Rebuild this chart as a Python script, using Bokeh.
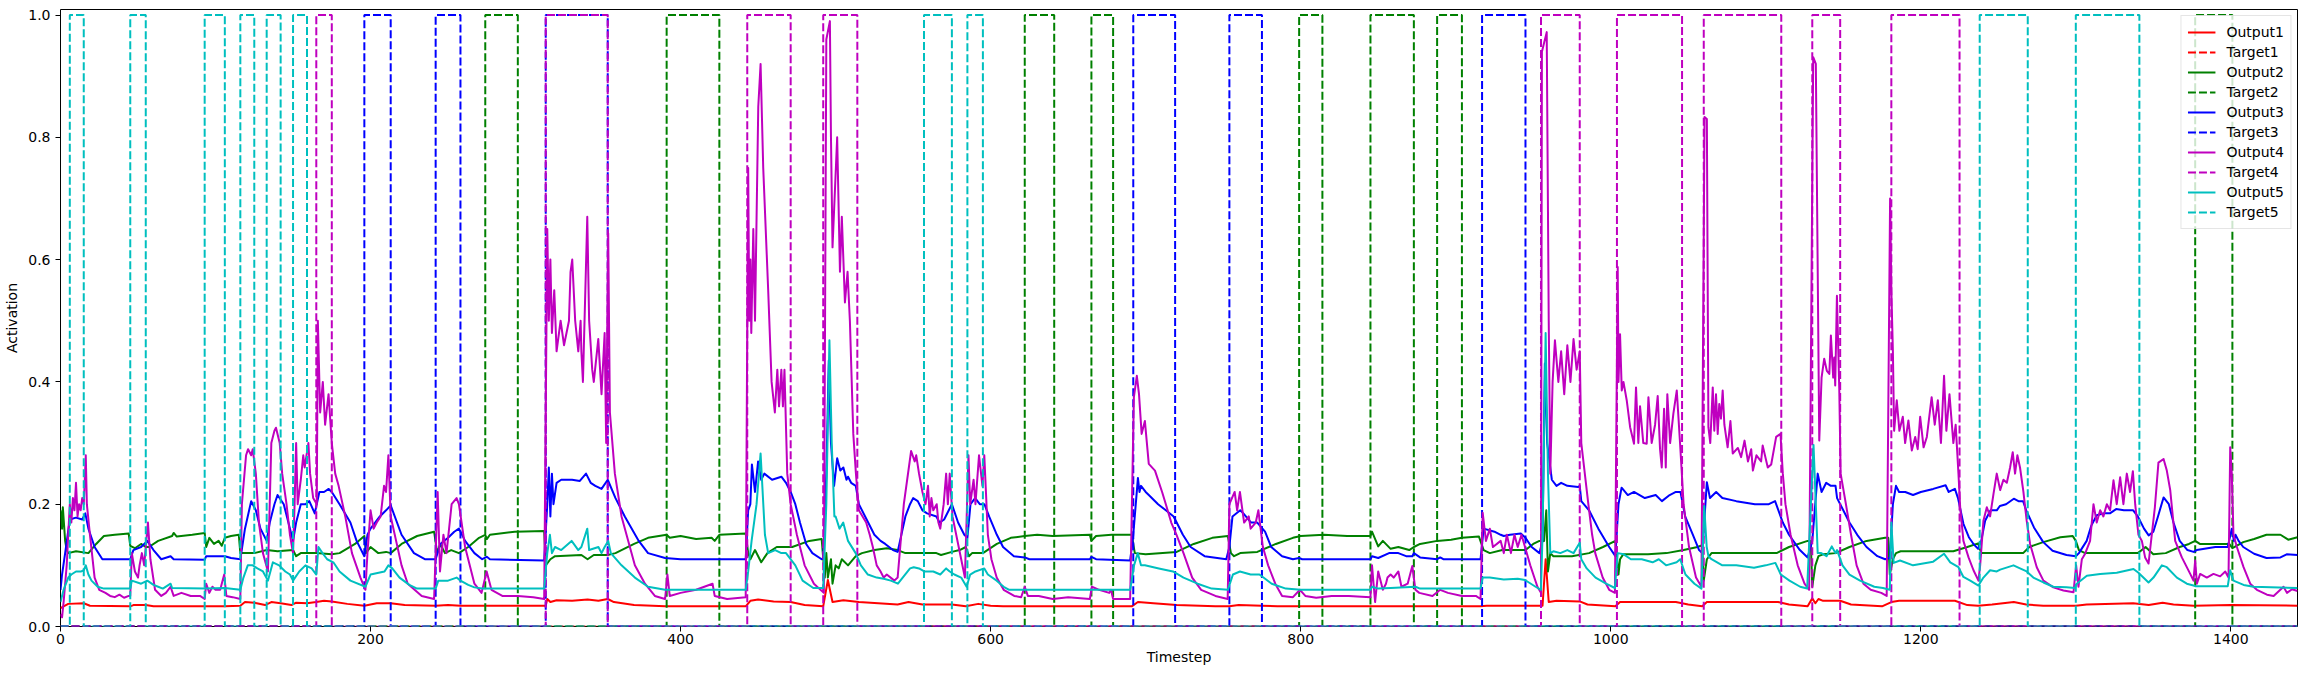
from bokeh.plotting import figure
from bokeh.models import Range1d, FixedTicker, PrintfTickFormatter
from bokeh.embed import file_html
from bokeh.resources import INLINE

N_STEPS = 1443

# (timestep, activation) points
o1_pts = [(0, 0.03), (2, 0.033), (5, 0.037), (15, 0.038), (19, 0.034), (45, 0.033), (47, 0.035), (55, 0.035),
          (60, 0.033), (93, 0.033), (106, 0.033), (116, 0.034), (119, 0.04), (125, 0.039), (132, 0.035),
          (136, 0.04), (142, 0.038), (149, 0.035), (152, 0.039), (159, 0.038), (165, 0.04), (170, 0.042),
          (175, 0.041), (185, 0.037), (196, 0.034), (204, 0.038), (213, 0.038), (222, 0.035), (242, 0.034),
          (250, 0.035), (258, 0.034), (313, 0.034), (314, 0.045), (316, 0.04), (320, 0.043), (330, 0.042),
          (340, 0.044), (347, 0.042), (353, 0.045), (357, 0.04), (370, 0.035), (390, 0.033), (442, 0.033),
          (445, 0.042), (450, 0.044), (460, 0.041), (471, 0.04), (480, 0.035), (492, 0.033), (495, 0.076),
          (498, 0.04), (505, 0.043), (515, 0.04), (540, 0.036), (547, 0.04), (556, 0.036), (575, 0.036),
          (584, 0.033), (592, 0.037), (600, 0.034), (608, 0.033), (691, 0.033), (695, 0.04), (705, 0.038),
          (720, 0.035), (745, 0.033), (754, 0.033), (760, 0.035), (775, 0.034), (785, 0.033), (916, 0.033),
          (920, 0.034), (945, 0.034), (956, 0.034), (958, 0.11), (960, 0.04), (965, 0.042), (980, 0.041),
          (985, 0.036), (1003, 0.033), (1006, 0.04), (1042, 0.04), (1050, 0.036), (1059, 0.033), (1062, 0.04),
          (1108, 0.04), (1115, 0.036), (1127, 0.033), (1130, 0.046), (1132, 0.038), (1134, 0.045),
          (1137, 0.042), (1148, 0.042), (1155, 0.036), (1175, 0.033), (1181, 0.04), (1186, 0.042),
          (1222, 0.042), (1230, 0.035), (1237, 0.034), (1246, 0.036), (1260, 0.04), (1268, 0.036),
          (1279, 0.034), (1300, 0.034), (1307, 0.036), (1337, 0.038), (1347, 0.035), (1356, 0.039),
          (1363, 0.036), (1376, 0.034), (1400, 0.035), (1443, 0.034)]

o2_pts = [(0, 0.19), (1, 0.16), (1.5, 0.195), (3, 0.14), (4, 0.125), (5, 0.12), (10, 0.123), (18, 0.12),
          (23, 0.135), (28, 0.148), (35, 0.15), (44, 0.152), (45, 0.132), (48, 0.128), (52, 0.135), (55, 0.13),
          (57, 0.13), (63, 0.14), (72, 0.148), (73, 0.153), (75, 0.147), (85, 0.15), (93, 0.153), (94, 0.13),
          (96, 0.145), (99, 0.135), (102, 0.14), (104, 0.132), (106, 0.145), (110, 0.148), (115, 0.15),
          (116, 0.12), (125, 0.12), (133, 0.125), (140, 0.123), (150, 0.125), (152, 0.115), (155, 0.12),
          (165, 0.12), (175, 0.118), (180, 0.12), (190, 0.135), (196, 0.148), (197, 0.12), (200, 0.13),
          (205, 0.12), (210, 0.122), (213, 0.12), (220, 0.135), (230, 0.148), (241, 0.155), (243, 0.12),
          (245, 0.135), (248, 0.12), (252, 0.125), (257, 0.12), (263, 0.13), (270, 0.145), (274, 0.15),
          (275, 0.143), (277, 0.15), (293, 0.155), (312, 0.156), (313, 0.1), (316, 0.11), (319, 0.115),
          (336, 0.117), (340, 0.11), (344, 0.117), (353, 0.117), (358, 0.12), (370, 0.135), (379, 0.145),
          (391, 0.15), (393, 0.145), (400, 0.148), (410, 0.143), (420, 0.145), (422, 0.14), (425, 0.15),
          (442, 0.152), (443.6, 0.12), (445, 0.11), (448, 0.125), (452, 0.105), (456, 0.12), (462, 0.13),
          (472, 0.13), (483, 0.14), (491, 0.143), (493, 0.08), (494, 0.12), (495, 0.08), (497, 0.11),
          (498, 0.07), (500, 0.1), (502, 0.095), (504, 0.11), (508, 0.1), (513, 0.115), (517, 0.12),
          (525, 0.125), (533, 0.128), (540, 0.125), (545, 0.12), (565, 0.12), (568, 0.117), (575, 0.122),
          (580, 0.125), (584, 0.13), (586, 0.115), (588, 0.12), (595, 0.12), (604, 0.135), (613, 0.145),
          (622, 0.148), (630, 0.15), (640, 0.148), (664, 0.15), (665, 0.14), (668, 0.148), (678, 0.15),
          (691, 0.15), (693, 0.12), (700, 0.118), (711, 0.12), (720, 0.122), (731, 0.135), (743, 0.145),
          (753, 0.148), (755, 0.12), (757, 0.115), (761, 0.12), (772, 0.122), (784, 0.135), (795, 0.145),
          (800, 0.148), (815, 0.15), (830, 0.148), (845, 0.148), (846, 0.155), (850, 0.131), (853, 0.14),
          (858, 0.127), (863, 0.13), (870, 0.125), (873, 0.13), (877, 0.135), (888, 0.14), (897, 0.142),
          (904, 0.145), (915, 0.147), (918, 0.125), (922, 0.12), (930, 0.125), (945, 0.125), (950, 0.135),
          (954, 0.14), (957, 0.14), (958.4, 0.19), (959.5, 0.09), (961, 0.12), (963, 0.115), (975, 0.115),
          (986, 0.12), (995, 0.13), (1003, 0.14), (1005, 0.085), (1006, 0.11), (1008, 0.118), (1024, 0.118),
          (1036, 0.12), (1047, 0.125), (1056, 0.13), (1059, 0.133), (1060, 0.075), (1062, 0.11), (1065, 0.12),
          (1107, 0.12), (1115, 0.13), (1127, 0.14), (1129, 0.14), (1130, 0.065), (1132, 0.1), (1134, 0.115),
          (1137, 0.118), (1145, 0.12), (1154, 0.13), (1165, 0.14), (1177, 0.145), (1179, 0.145),
          (1180, 0.085), (1182, 0.11), (1184, 0.12), (1187, 0.123), (1221, 0.123), (1230, 0.13),
          (1237, 0.136), (1239, 0.12), (1266, 0.12), (1270, 0.13), (1279, 0.138), (1290, 0.146),
          (1298, 0.148), (1300, 0.14), (1302, 0.125), (1306, 0.12), (1340, 0.12), (1345, 0.13),
          (1350, 0.118), (1358, 0.12), (1367, 0.13), (1373, 0.135), (1377, 0.14), (1380, 0.135),
          (1399, 0.135), (1401, 0.128), (1408, 0.138), (1415, 0.143), (1423, 0.15), (1432, 0.15),
          (1437, 0.142), (1443, 0.146)]

o3_pts = [(0, 0.06), (1, 0.085), (3, 0.12), (6, 0.175), (10, 0.178), (14, 0.175), (16, 0.185), (18, 0.16),
          (22, 0.13), (27, 0.11), (45, 0.11), (47, 0.125), (52, 0.13), (56, 0.14), (60, 0.125), (65, 0.11),
          (71, 0.115), (73, 0.11), (93, 0.109), (94, 0.115), (106, 0.115), (110, 0.112), (116, 0.11),
          (119, 0.16), (123, 0.205), (126, 0.19), (129, 0.16), (133, 0.14), (135, 0.17), (138, 0.2),
          (140, 0.215), (144, 0.2), (147, 0.17), (150, 0.14), (152, 0.17), (155, 0.2), (158, 0.2),
          (160.5, 0.205), (164, 0.185), (167, 0.22), (170, 0.22), (173, 0.225), (175, 0.22), (180, 0.2),
          (187, 0.17), (191, 0.14), (196, 0.115), (198, 0.15), (200, 0.16), (206, 0.18), (210, 0.19),
          (213, 0.198), (220, 0.15), (228, 0.12), (235, 0.11), (242, 0.11), (245, 0.135), (250, 0.145),
          (254, 0.155), (257, 0.16), (261, 0.14), (267, 0.12), (272, 0.11), (275, 0.114), (277, 0.11),
          (312, 0.108), (314, 0.2), (315, 0.26), (316, 0.18), (317, 0.25), (318, 0.2), (320, 0.235),
          (323, 0.24), (330, 0.24), (335, 0.238), (339, 0.25), (342, 0.235), (345, 0.23), (349, 0.225),
          (353, 0.24), (358, 0.21), (364, 0.18), (373, 0.14), (379, 0.12), (390, 0.112), (400, 0.11),
          (442, 0.11), (443.6, 0.19), (445, 0.2), (446, 0.265), (448, 0.22), (450, 0.27), (452, 0.24),
          (454, 0.25), (459, 0.24), (465, 0.245), (468, 0.235), (471, 0.22), (474, 0.2), (477, 0.17),
          (481, 0.135), (485, 0.12), (491, 0.11), (492, 0.112), (494, 0.25), (495.6, 0.435), (497, 0.3),
          (499, 0.23), (501, 0.275), (503, 0.255), (505, 0.26), (507, 0.24), (508, 0.245), (510, 0.235),
          (513, 0.23), (515, 0.2), (521, 0.17), (525, 0.15), (529, 0.14), (532, 0.135), (537, 0.125),
          (540, 0.122), (545, 0.18), (548, 0.2), (550, 0.21), (553, 0.205), (556, 0.19), (559, 0.185),
          (565, 0.18), (567, 0.17), (570, 0.175), (573, 0.19), (575, 0.2), (579, 0.17), (583, 0.15),
          (585, 0.145), (587, 0.2), (590, 0.21), (593, 0.2), (596, 0.2), (599, 0.18), (604, 0.15),
          (608, 0.13), (615, 0.115), (622, 0.113), (625, 0.11), (664, 0.11), (665, 0.114), (668, 0.11),
          (690, 0.108), (692, 0.15), (695, 0.243), (696, 0.22), (697, 0.23), (700, 0.22), (702, 0.215),
          (708, 0.2), (713, 0.19), (718, 0.18), (720, 0.17), (724, 0.15), (729, 0.13), (738, 0.115),
          (752, 0.11), (754, 0.13), (756, 0.18), (761, 0.19), (763, 0.185), (768, 0.17), (772, 0.17),
          (777, 0.155), (781, 0.13), (788, 0.115), (795, 0.11), (799, 0.112), (801, 0.11), (845, 0.11),
          (846, 0.115), (850, 0.112), (857, 0.12), (863, 0.12), (868, 0.115), (872, 0.115), (873, 0.12),
          (877, 0.113), (888, 0.11), (890, 0.113), (892, 0.11), (916, 0.11), (918, 0.16), (925, 0.155),
          (929, 0.15), (931, 0.148), (935, 0.15), (942, 0.152), (945, 0.145), (949, 0.13), (954, 0.12),
          (956, 0.14), (957.5, 0.43), (959, 0.3), (962, 0.24), (965, 0.23), (968, 0.235), (972, 0.23),
          (979, 0.228), (980, 0.23), (981, 0.205), (986, 0.19), (992, 0.16), (999, 0.13), (1003, 0.115),
          (1005, 0.2), (1007, 0.227), (1011, 0.215), (1015, 0.22), (1022, 0.21), (1029, 0.215),
          (1033, 0.205), (1038, 0.215), (1042, 0.22), (1045, 0.22), (1048, 0.18), (1053, 0.15),
          (1057, 0.125), (1059, 0.12), (1062, 0.236), (1064, 0.21), (1068, 0.22), (1072, 0.21),
          (1081, 0.205), (1093, 0.2), (1102, 0.2), (1106, 0.205), (1111, 0.17), (1115, 0.15), (1122, 0.125),
          (1127, 0.113), (1130, 0.14), (1133.5, 0.25), (1136, 0.22), (1139, 0.235), (1142, 0.23),
          (1145, 0.23), (1146, 0.21), (1150, 0.19), (1154, 0.17), (1159, 0.15), (1165, 0.13), (1172, 0.115),
          (1177, 0.11), (1180, 0.112), (1182, 0.2), (1184, 0.23), (1186, 0.22), (1190, 0.22), (1195, 0.215),
          (1200, 0.22), (1208, 0.225), (1216, 0.231), (1218, 0.22), (1222, 0.225), (1224, 0.21),
          (1227.5, 0.168), (1231, 0.146), (1234, 0.135), (1237, 0.127), (1239, 0.14), (1241.5, 0.173),
          (1245, 0.19), (1249, 0.19), (1251, 0.197), (1255, 0.2), (1260, 0.209), (1263, 0.205),
          (1266, 0.205), (1268, 0.19), (1273, 0.162), (1279, 0.138), (1285, 0.124), (1294, 0.117),
          (1300, 0.115), (1302, 0.12), (1307, 0.14), (1310, 0.165), (1313.5, 0.182), (1318, 0.185),
          (1322, 0.185), (1326, 0.192), (1331, 0.19), (1337, 0.19), (1340, 0.18), (1344, 0.16),
          (1347, 0.149), (1350, 0.155), (1353, 0.18), (1356.6, 0.211), (1360, 0.2), (1363, 0.17),
          (1367, 0.14), (1372, 0.125), (1376, 0.122), (1378, 0.125), (1390, 0.13), (1398, 0.13),
          (1400.6, 0.16), (1402, 0.14), (1403, 0.15), (1405, 0.14), (1408, 0.13), (1415, 0.119),
          (1423, 0.112), (1432, 0.113), (1436, 0.118), (1443, 0.117)]

o4_pts = [(0, 0.02), (1, 0.015), (2, 0.04), (4, 0.1), (6, 0.2), (7, 0.17), (8, 0.21), (9, 0.19), (10, 0.235),
          (11, 0.18), (12, 0.2), (13, 0.19), (14, 0.21), (15, 0.2), (16.3, 0.28), (17, 0.2), (19, 0.15),
          (22, 0.08), (25, 0.06), (29, 0.055), (32, 0.05), (35, 0.048), (38, 0.052), (41, 0.047), (44, 0.05),
          (45, 0.05), (46, 0.12), (48, 0.09), (50, 0.08), (51, 0.1), (52.5, 0.12), (54, 0.1), (55, 0.13),
          (56.4, 0.17), (58, 0.11), (61, 0.06), (65, 0.05), (68, 0.055), (71, 0.065), (73, 0.05), (78, 0.055),
          (84, 0.05), (90, 0.05), (93, 0.045), (94, 0.07), (96, 0.055), (98, 0.065), (100, 0.06), (103, 0.06),
          (105.6, 0.085), (107, 0.05), (111, 0.048), (116, 0.045), (117, 0.2), (119.7, 0.28), (121, 0.29),
          (123, 0.28), (124, 0.29), (126, 0.25), (128, 0.17), (130.6, 0.12), (133.8, 0.09), (136, 0.3),
          (138, 0.32), (139, 0.325), (141.4, 0.3), (143, 0.25), (145.8, 0.2), (148, 0.15), (150, 0.12),
          (151, 0.2), (152, 0.3), (153, 0.2), (155, 0.24), (156.6, 0.28), (157.5, 0.26), (159.9, 0.3),
          (161, 0.25), (163, 0.21), (165.3, 0.2), (166, 0.5), (167.5, 0.35), (169.2, 0.4), (170.7, 0.33),
          (172.9, 0.38), (175, 0.3), (177.2, 0.25), (179.4, 0.23), (183.7, 0.18), (188, 0.12), (193.5, 0.08),
          (196.7, 0.06), (198, 0.12), (200, 0.19), (202, 0.16), (204, 0.17), (206.5, 0.18), (208.7, 0.23),
          (210, 0.22), (211.5, 0.28), (213, 0.18), (220, 0.1), (224, 0.07), (233, 0.05), (241, 0.045),
          (243.3, 0.22), (244.8, 0.09), (247, 0.15), (249, 0.12), (252.3, 0.2), (255.5, 0.21), (257, 0.2),
          (261, 0.13), (267, 0.07), (271.6, 0.055), (274.9, 0.09), (278, 0.06), (285, 0.05), (295, 0.05),
          (305, 0.048), (312, 0.045), (313.5, 0.5), (314, 0.65), (315, 0.5), (316, 0.6), (317, 0.48),
          (318.5, 0.55), (320, 0.45), (322.6, 0.5), (324.8, 0.46), (328, 0.5), (329, 0.58), (330.1, 0.6),
          (332, 0.5), (334, 0.45), (335.5, 0.5), (336, 0.45), (337, 0.4), (339.8, 0.67), (341, 0.5),
          (343, 0.42), (344, 0.4), (346.9, 0.47), (349, 0.38), (351, 0.48), (352, 0.3), (353.3, 0.643),
          (354.4, 0.35), (357.6, 0.25), (361.9, 0.18), (370.5, 0.1), (377, 0.07), (383.4, 0.05), (390, 0.045),
          (391.5, 0.085), (393, 0.05), (400, 0.055), (410, 0.06), (420.6, 0.07), (422, 0.05), (430, 0.045),
          (442, 0.048), (443.6, 0.75), (444.3, 0.5), (445, 0.6), (445.6, 0.48), (446.9, 0.65), (448, 0.5),
          (450.1, 0.85), (451.6, 0.92), (453.3, 0.75), (456.5, 0.55), (458.7, 0.4), (460.8, 0.35),
          (462.4, 0.42), (463.5, 0.36), (465, 0.42), (466, 0.36), (467, 0.42), (468.8, 0.25), (471, 0.2),
          (475, 0.15), (480, 0.1), (486, 0.07), (492.4, 0.055), (494, 0.96), (496.3, 0.99), (497, 0.8),
          (498, 0.62), (501, 0.8), (502.8, 0.58), (504, 0.67), (506, 0.53), (507.7, 0.58), (509.2, 0.5),
          (511.4, 0.315), (513.1, 0.25), (515, 0.19), (519.7, 0.17), (522, 0.15), (524, 0.13), (526.5, 0.1),
          (529, 0.09), (531, 0.08), (533, 0.085), (537.9, 0.075), (540, 0.08), (544, 0.2), (548.7, 0.287),
          (551, 0.27), (552, 0.28), (553.8, 0.25), (556, 0.22), (558, 0.2), (559.6, 0.23), (560.7, 0.18),
          (561.8, 0.21), (563, 0.19), (565.2, 0.2), (566.3, 0.17), (567.5, 0.16), (569.7, 0.2),
          (571.3, 0.25), (572.4, 0.2), (573.6, 0.25), (575.4, 0.18), (581, 0.11), (583.4, 0.08),
          (585.7, 0.28), (586.8, 0.2), (589, 0.24), (590.2, 0.2), (592.5, 0.28), (594.7, 0.23),
          (595.9, 0.28), (598.2, 0.15), (600.5, 0.11), (603.9, 0.08), (608.4, 0.06), (615.2, 0.05),
          (619.7, 0.048), (622, 0.065), (624, 0.05), (631, 0.05), (640, 0.045), (650, 0.048), (664, 0.045),
          (665.3, 0.065), (670, 0.06), (676.5, 0.055), (677.6, 0.06), (679, 0.045), (690, 0.045),
          (692.4, 0.375), (694.3, 0.41), (695.7, 0.38), (697.4, 0.315), (699.5, 0.336), (702, 0.266),
          (706, 0.255), (710.6, 0.22), (713, 0.2), (716.5, 0.17), (719.9, 0.15), (724.4, 0.12), (730, 0.08),
          (735.8, 0.06), (745, 0.05), (752.9, 0.045), (754, 0.2), (757.4, 0.22), (759, 0.19), (760.8, 0.22),
          (763.5, 0.17), (766.5, 0.18), (767.7, 0.16), (771, 0.17), (772.7, 0.19), (775.6, 0.13),
          (779, 0.1), (783.6, 0.07), (788, 0.05), (795, 0.048), (799.5, 0.06), (803, 0.05), (810, 0.047),
          (820, 0.05), (831, 0.05), (845, 0.048), (846, 0.1), (848, 0.04), (850, 0.09), (853, 0.06),
          (855, 0.07), (856, 0.08), (858, 0.085), (860, 0.08), (863, 0.09), (865, 0.065), (869, 0.07),
          (872, 0.099), (874, 0.06), (876.5, 0.055), (885, 0.05), (890, 0.06), (895, 0.055), (904, 0.05),
          (913, 0.05), (916, 0.045), (917.4, 0.186), (919.5, 0.14), (922, 0.16), (924, 0.13), (929, 0.14),
          (931, 0.12), (933, 0.15), (935.6, 0.12), (937.9, 0.15), (940, 0.13), (942.4, 0.15), (944.7, 0.13),
          (948.1, 0.1), (952.7, 0.065), (955, 0.055), (955.6, 0.94), (958.7, 0.972), (960, 0.5), (961, 0.25),
          (962.5, 0.4), (964, 0.468), (966.2, 0.4), (968, 0.45), (970, 0.38), (972, 0.46), (974, 0.4),
          (976, 0.47), (978, 0.42), (980, 0.45), (981, 0.3), (985.7, 0.197), (988, 0.15), (990, 0.12),
          (994.8, 0.08), (999, 0.06), (1002.7, 0.055), (1004.5, 0.588), (1005, 0.4), (1006, 0.478),
          (1007.1, 0.386), (1008.2, 0.4), (1010.3, 0.37), (1012.5, 0.326), (1015, 0.299), (1016.3, 0.391),
          (1017.8, 0.3), (1018.9, 0.36), (1021, 0.3), (1023.2, 0.299), (1024.3, 0.375), (1026.4, 0.3),
          (1028.6, 0.33), (1030.3, 0.377), (1031.8, 0.29), (1032.9, 0.26), (1034.4, 0.356), (1035.5, 0.26),
          (1036.5, 0.38), (1038.3, 0.3), (1040.4, 0.348), (1042.6, 0.386), (1044.7, 0.3), (1047, 0.2),
          (1050.5, 0.13), (1055, 0.08), (1058.5, 0.065), (1060.5, 0.833), (1062, 0.83), (1063, 0.326),
          (1064.2, 0.3), (1065.8, 0.391), (1066.8, 0.32), (1067.9, 0.38), (1069, 0.315), (1070, 0.364),
          (1071.1, 0.34), (1072.2, 0.386), (1073.3, 0.33), (1075.4, 0.293), (1077.2, 0.336), (1078.7, 0.283),
          (1082, 0.292), (1084.1, 0.277), (1086.3, 0.304), (1088.5, 0.27), (1090.6, 0.29), (1091.7, 0.255),
          (1094, 0.28), (1097, 0.27), (1098, 0.296), (1101.3, 0.26), (1103.5, 0.265), (1106.7, 0.31),
          (1109.5, 0.315), (1111, 0.25), (1112.7, 0.2), (1116, 0.15), (1120.6, 0.1), (1125, 0.07),
          (1128, 0.06), (1130.6, 0.931), (1132.3, 0.92), (1134.5, 0.304), (1136, 0.407), (1137.7, 0.438),
          (1139.4, 0.418), (1141, 0.413), (1142, 0.476), (1143.5, 0.407), (1144.2, 0.44), (1144.8, 0.394),
          (1145.9, 0.541), (1147.4, 0.39), (1148.3, 0.25), (1151.7, 0.2), (1155, 0.15), (1158.6, 0.1),
          (1163, 0.07), (1167.7, 0.06), (1174.5, 0.055), (1178, 0.05), (1180.2, 0.7), (1181, 0.55),
          (1182, 0.45), (1182.8, 0.32), (1184.5, 0.37), (1186.2, 0.32), (1188.4, 0.343), (1189.9, 0.3),
          (1192, 0.337), (1194.2, 0.288), (1196.4, 0.31), (1198, 0.29), (1199.6, 0.343), (1201.8, 0.293),
          (1203.9, 0.31), (1207, 0.375), (1209, 0.33), (1211, 0.37), (1213, 0.3), (1215, 0.41),
          (1216.5, 0.32), (1218.5, 0.38), (1221, 0.3), (1222.5, 0.33), (1224.3, 0.25), (1225.4, 0.195),
          (1227.5, 0.14), (1230.8, 0.113), (1234, 0.092), (1237.2, 0.075), (1238.3, 0.1), (1240.4, 0.173),
          (1242.6, 0.195), (1244.7, 0.18), (1246.9, 0.217), (1249, 0.25), (1251.2, 0.223), (1253.3, 0.24),
          (1255.5, 0.235), (1257.6, 0.26), (1259.3, 0.285), (1260.8, 0.25), (1262.3, 0.28), (1264, 0.26),
          (1266.2, 0.22), (1268.3, 0.173), (1270.5, 0.135), (1274.8, 0.097), (1279.1, 0.075),
          (1285.5, 0.064), (1292, 0.059), (1298.5, 0.056), (1300.2, 0.1), (1301.7, 0.065), (1303.9, 0.11),
          (1306, 0.119), (1309.2, 0.14), (1311.4, 0.2), (1313.5, 0.17), (1315.7, 0.19), (1317.8, 0.18),
          (1320, 0.2), (1322.1, 0.19), (1324.3, 0.239), (1326.4, 0.2), (1328.6, 0.244), (1330.7, 0.2),
          (1332.9, 0.25), (1335, 0.22), (1336.8, 0.254), (1338.3, 0.2), (1340.4, 0.15), (1342.6, 0.14),
          (1344.7, 0.113), (1346.9, 0.103), (1351, 0.195), (1353.3, 0.268), (1356.6, 0.274),
          (1358.7, 0.255), (1360.9, 0.223), (1364.1, 0.14), (1368.4, 0.113), (1373.8, 0.086),
          (1375.9, 0.075), (1377, 0.108), (1378.1, 0.07), (1380.2, 0.086), (1384.5, 0.08), (1388.8, 0.086),
          (1393.1, 0.082), (1396.4, 0.09), (1398.5, 0.08), (1399.6, 0.293), (1400.6, 0.25), (1401.7, 0.15),
          (1403.9, 0.13), (1408.2, 0.097), (1412.5, 0.07), (1416.8, 0.06), (1423.3, 0.052), (1427.6, 0.05),
          (1434, 0.065), (1436.2, 0.055), (1439.5, 0.061), (1443, 0.058)]

o5_pts = [(0, 0.04), (2, 0.06), (5, 0.08), (7, 0.085), (10, 0.09), (13.4, 0.09), (15, 0.092), (16.3, 0.1),
          (18, 0.085), (20, 0.075), (24, 0.065), (28, 0.062), (45, 0.062), (46, 0.075), (52, 0.07), (56, 0.075),
          (60, 0.068), (63, 0.065), (66, 0.062), (71, 0.07), (72, 0.063), (93, 0.062), (106, 0.063),
          (116, 0.06), (118, 0.08), (120.8, 0.1), (124, 0.1), (127, 0.095), (130.6, 0.09), (133.8, 0.075),
          (137, 0.105), (141, 0.1), (145, 0.09), (148, 0.085), (150, 0.075), (154, 0.09), (158, 0.1),
          (162, 0.095), (165, 0.085), (166.4, 0.13), (169, 0.12), (172, 0.11), (176, 0.105), (180, 0.09),
          (187, 0.075), (196.7, 0.065), (200, 0.085), (209, 0.09), (211.5, 0.1), (214, 0.095), (218.7, 0.08),
          (225, 0.068), (230, 0.062), (242, 0.062), (243.7, 0.075), (250, 0.075), (255.5, 0.08), (258, 0.075),
          (263, 0.068), (267, 0.064), (272, 0.062), (312, 0.062), (314, 0.12), (315.7, 0.15), (317, 0.12),
          (319, 0.13), (323, 0.125), (329.7, 0.14), (334, 0.125), (336, 0.13), (339.8, 0.16), (341, 0.125),
          (347, 0.13), (349, 0.12), (351, 0.13), (353.3, 0.14), (355, 0.12), (361.9, 0.1), (370.5, 0.08),
          (379, 0.065), (390, 0.06), (442, 0.06), (443.6, 0.09), (445.8, 0.14), (449, 0.2), (451.6, 0.283),
          (454.4, 0.15), (456.5, 0.12), (461, 0.125), (465, 0.12), (468, 0.12), (474, 0.1), (478.7, 0.075),
          (485.6, 0.063), (492, 0.063), (494, 0.2), (496, 0.468), (497.5, 0.3), (499.2, 0.18), (500, 0.18),
          (502.5, 0.16), (504.9, 0.17), (508, 0.14), (512.9, 0.12), (516.3, 0.1), (520.8, 0.085),
          (526.5, 0.08), (531, 0.078), (535.6, 0.075), (540.2, 0.07), (548, 0.095), (550.4, 0.097),
          (553.8, 0.095), (557.2, 0.09), (563, 0.09), (567.5, 0.085), (571.3, 0.095), (573.6, 0.09),
          (576.6, 0.085), (581, 0.08), (584.5, 0.065), (586.8, 0.085), (590.2, 0.09), (595.9, 0.095),
          (598.2, 0.085), (603.9, 0.075), (608.4, 0.065), (612, 0.06), (690, 0.06), (692.5, 0.1),
          (694.9, 0.12), (697, 0.1), (699.5, 0.1), (708.5, 0.095), (717.6, 0.09), (724.4, 0.08),
          (733.5, 0.07), (742.6, 0.062), (753, 0.06), (756.3, 0.085), (760.8, 0.09), (767.7, 0.085),
          (773.4, 0.085), (781.3, 0.07), (790.4, 0.062), (800, 0.06), (845, 0.06), (846, 0.065), (850, 0.062),
          (858, 0.063), (874, 0.065), (877, 0.062), (916, 0.062), (917.4, 0.08), (922, 0.08), (931, 0.077),
          (940, 0.078), (944.7, 0.076), (951.5, 0.065), (955, 0.06), (956, 0.15), (958, 0.48), (959.5, 0.25),
          (961, 0.12), (963, 0.123), (967.5, 0.12), (972, 0.125), (976, 0.12), (980, 0.137), (981, 0.11),
          (984.5, 0.095), (990.2, 0.08), (997, 0.07), (1002.7, 0.063), (1004.5, 0.12), (1008.4, 0.118),
          (1013, 0.11), (1020, 0.11), (1027, 0.105), (1031, 0.11), (1035.7, 0.1), (1042.5, 0.105),
          (1044.8, 0.11), (1048.2, 0.085), (1054, 0.07), (1058.5, 0.062), (1060.3, 0.197), (1061.9, 0.13),
          (1063, 0.115), (1065, 0.11), (1072, 0.1), (1081, 0.1), (1092.4, 0.096), (1100, 0.1),
          (1106.2, 0.104), (1109.7, 0.085), (1115.3, 0.075), (1122.2, 0.065), (1126.7, 0.062),
          (1130.8, 0.297), (1133.5, 0.12), (1135.8, 0.12), (1139.2, 0.115), (1142.6, 0.131), (1145, 0.12),
          (1146, 0.125), (1149.5, 0.1), (1154, 0.085), (1160.8, 0.075), (1170, 0.065), (1175.6, 0.063),
          (1180, 0.06), (1181, 0.17), (1182.5, 0.104), (1186.6, 0.108), (1195, 0.1), (1208, 0.106),
          (1215, 0.119), (1219, 0.105), (1224.3, 0.097), (1227.5, 0.081), (1231.9, 0.075), (1237.2, 0.067),
          (1240.4, 0.08), (1244.7, 0.092), (1249, 0.09), (1251.2, 0.093), (1259.8, 0.1), (1264, 0.095),
          (1268.3, 0.09), (1272.6, 0.08), (1279.1, 0.072), (1285.5, 0.065), (1294, 0.064), (1299.5, 0.063),
          (1300.6, 0.07), (1307.1, 0.083), (1315.7, 0.086), (1326.4, 0.088), (1337.2, 0.094),
          (1340.4, 0.088), (1346.9, 0.072), (1350.1, 0.08), (1355.5, 0.1), (1358.7, 0.097), (1365.2, 0.08),
          (1371.6, 0.07), (1375.9, 0.067), (1377, 0.066), (1398, 0.066), (1399.6, 0.092), (1401.7, 0.075),
          (1408.2, 0.068), (1414.6, 0.065), (1443, 0.063)]

# target intervals (start, end) where the target is 1
t1_on = []
t2_on = [(274, 295), (391, 425), (622, 641), (665, 679), (799, 814), (845, 873), (888, 904), (1377, 1401)]
t3_on = [(196, 213), (242, 258), (313, 353), (692, 719), (754, 775), (917, 945)]
t4_on = [(165, 175), (313, 353), (443, 471), (492, 514), (955, 980), (1004, 1046), (1060, 1110),
         (1130, 1148), (1181, 1225)]
t5_on = [(6, 15), (45, 55), (93, 106), (116, 125), (133, 142), (150, 159), (557, 575), (585, 595),
         (1238, 1269), (1300, 1341)]

colors = ["#ff0000", "#008000", "#0000ff", "#bf00bf", "#00bfbf"]
outputs = [o1_pts, o2_pts, o3_pts, o4_pts, o5_pts]
targets = [t1_on, t2_on, t3_on, t4_on, t5_on]

FONT = "DejaVu Sans"


def step_line(intervals):
    xs, ys = [0], [0]
    for s, e in intervals:
        xs += [s, s, e, e]
        ys += [0, 1, 1, 0]
    xs.append(N_STEPS)
    ys.append(0)
    return xs, ys


p = figure(width=2298, height=667, output_backend="svg", toolbar_location=None,
           x_range=Range1d(0, N_STEPS), y_range=Range1d(0, 1.009),
           min_border_left=60, min_border_right=1, min_border_top=9, min_border_bottom=0,
           x_axis_label="Timestep", y_axis_label="Activation")

for i in range(5):
    xs, ys = zip(*outputs[i])
    p.line(list(xs), list(ys), color=colors[i], line_width=2, line_join="round",
           legend_label="Output%d" % (i + 1))
    tx, ty = step_line(targets[i])
    p.line(tx, ty, color=colors[i], line_width=2, line_dash="8 3",
           legend_label="Target%d" % (i + 1))

p.xgrid.visible = False
p.ygrid.visible = False
p.outline_line_color = "black"
p.outline_line_width = 1
p.outline_line_alpha = 1

p.xaxis.ticker = FixedTicker(ticks=[0, 200, 400, 600, 800, 1000, 1200, 1400])
p.yaxis.ticker = FixedTicker(ticks=[0, 0.2, 0.4, 0.6, 0.8, 1.0])
p.yaxis.formatter = PrintfTickFormatter(format="%.1f")

for ax in (p.xaxis, p.yaxis):
    ax.axis_line_color = None
    ax.major_tick_line_color = "black"
    ax.major_tick_out = 5
    ax.major_tick_in = 0
    ax.minor_tick_line_color = None
    ax.major_label_text_font = FONT
    ax.major_label_text_font_size = "14px"
    ax.major_label_text_color = "black"
    ax.major_label_standoff = 2
    ax.axis_label_text_font = FONT
    ax.axis_label_text_font_size = "14px"
    ax.axis_label_text_font_style = "normal"
    ax.axis_label_text_color = "black"
    ax.axis_label_standoff = 2

p.yaxis.major_label_standoff = 5
p.yaxis.axis_label_standoff = 5

leg = p.legend[0]
leg.location = "top_right"
leg.margin = 6
leg.padding = 6
leg.spacing = 0
leg.label_height = 20
leg.glyph_height = 20
leg.glyph_width = 28
leg.label_standoff = 11
leg.label_text_font = FONT
leg.label_text_font_size = "14px"
leg.label_text_color = "black"
leg.border_line_color = "#cccccc"
leg.border_line_width = 1
leg.background_fill_alpha = 0.8

open("out.html", "w").write(file_html(p, INLINE))
